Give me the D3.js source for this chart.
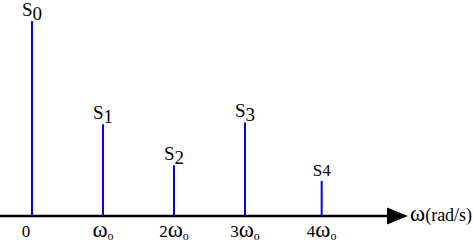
<!DOCTYPE html>
<html>
<head>
<meta charset="utf-8">
<script src="https://cdn.jsdelivr.net/npm/d3@7"></script>
<style>
	body { margin: 0; background: white; }
</style>
</head>
<body>
<div id="chart"></div>
<script>
// harmonic positions as drawn (units of w0) and relative line amplitudes
var harmonics = [0, 1, 2, 3, 4.08]
var amplitudes = [1, 0.47, 0.26, 0.48, 0.18]
var lineNames = ['S', 'S', 'S', 'S', 'S']
var lineSubs = ['0', '1', '2', '3', '4']
var tickPrefix = ['0', '', '2', '3', '4']
var axisSymbol = 'ω'
var axisUnit = '(rad/s)'

var width = 473, height = 244
var axisY = 216

var svg = d3.select('#chart').append('svg')
	.attr('width', width)
	.attr('height', height)
	.attr('font-family', "'Liberation Serif', 'DejaVu Serif', serif")
	.attr('fill', 'black')

var x = d3.scaleLinear().domain([0, 3]).range([32, 245])
var y = d3.scaleLinear().domain([0, 1]).range([axisY, 21])

var data = harmonics.map((h, i) => ({ h: h, a: amplitudes[i], name: lineNames[i], sub: lineSubs[i], tick: tickPrefix[i], i: i }))

// axis with arrow head
svg.append('line')
	.attr('x1', 0).attr('x2', 390)
	.attr('y1', axisY).attr('y2', axisY)
	.attr('stroke', 'black')
	.attr('stroke-width', 2.5)

svg.append('path')
	.attr('d', d3.line()([[387, axisY - 8.5], [408, axisY], [387, axisY + 8.5]]) + 'Z')
	.attr('fill', 'black')

var ax = svg.append('text')
	.attr('x', 410)
	.attr('y', axisY + 5)
	.attr('font-size', 18)
ax.append('tspan').attr('font-size', 23).text(axisSymbol)
ax.append('tspan').text(axisUnit)

// spectral lines
svg.selectAll('.stem')
	.data(data)
	.join('line')
	.attr('class', 'stem')
	.attr('x1', d => x(d.h)).attr('x2', d => x(d.h))
	.attr('y1', y(0)).attr('y2', d => y(d.a))
	.attr('stroke', '#0000ff')
	.attr('stroke-width', 2)

var lbl = svg.selectAll('.lbl')
	.data(data)
	.join('text')
	.attr('class', 'lbl')
	.attr('x', d => x(d.h))
	.attr('y', d => y(d.a) - 5)
	.attr('text-anchor', 'middle')
	.attr('font-size', d => d.i == 4 ? 17 : 19)
lbl.append('tspan').text(d => d.name)
lbl.append('tspan')
	.attr('dy', d => d.i == 4 ? 0 : 4)
	.text(d => d.sub)

// tick labels
var tk = svg.selectAll('.tick-lbl')
	.data(data)
	.join('text')
	.attr('class', 'tick-lbl')
	.attr('x', d => x(d.h) + (d.i == 0 ? -6 : 0))
	.attr('y', 237)
	.attr('text-anchor', 'middle')
	.attr('font-size', 17)
tk.append('tspan').text(d => d.tick)
tk.filter(d => d.i > 0).append('tspan').attr('font-size', 23).text('ω')
tk.filter(d => d.i > 0).append('tspan')
	.attr('dy', 3)
	.attr('font-size', 12)
	.text('o')
</script>
</body>
</html>
